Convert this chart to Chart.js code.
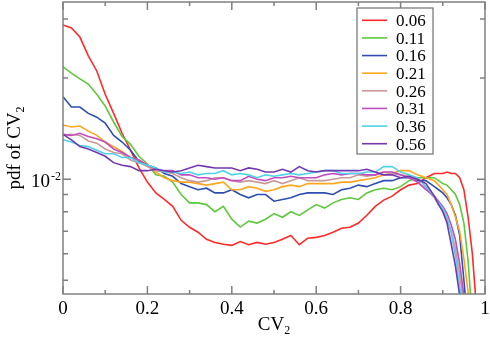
<!DOCTYPE html>
<html>
<head>
<meta charset="utf-8">
<script src="https://cdn.jsdelivr.net/npm/chart.js@4.4.1/dist/chart.umd.min.js"></script>
<style>
  html, body { margin: 0; padding: 0; background: #fff; }
</style>
</head>
<body>
<canvas id="pdfChart" width="490" height="341"></canvas>
<script>
// CV2 bin centres: 0.02 steps up to 0.88, then 0.01 steps through the cut-off
const cv = [
  0, 0.02, 0.04, 0.06, 0.08, 0.1, 0.12, 0.14, 0.16, 0.18,
  0.2, 0.22, 0.24, 0.26, 0.28, 0.3, 0.32, 0.34, 0.36, 0.38,
  0.4, 0.42, 0.44, 0.46, 0.48, 0.5, 0.52, 0.54, 0.56, 0.58,
  0.6, 0.62, 0.64, 0.66, 0.68, 0.7, 0.72, 0.74, 0.76, 0.78,
  0.8, 0.82, 0.84, 0.86, 0.88,
  0.89, 0.9, 0.91, 0.92, 0.93, 0.94, 0.95, 0.96, 0.97, 0.98, 0.99
];

const labels = ["0.06", "0.11", "0.16", "0.21", "0.26", "0.31", "0.36", "0.56"];
const colors = ["#ff2a2a", "#5ec83c", "#2f4fb0", "#ffa620", "#c89a9a", "#c04cc0", "#4fd3e6", "#7338b0"];

const pdf006 = [
  0.0288, 0.0282, 0.0265, 0.0233, 0.0210, 0.0179, 0.0157, 0.0137, 0.0122, 0.0108,
  0.0098, 0.0091, 0.0087, 0.0083, 0.00754, 0.00719, 0.00695, 0.00662, 0.00648, 0.0064,
  0.00635, 0.00652, 0.00638, 0.00648, 0.0064, 0.00648, 0.00662, 0.0068, 0.00638, 0.00667,
  0.00671, 0.0068, 0.00695, 0.00714, 0.00719, 0.0074, 0.00781, 0.0083, 0.00866, 0.0089,
  0.0093, 0.0096, 0.0097, 0.0101, 0.0104,
  0.0104, 0.0104, 0.0105, 0.0104, 0.0104, 0.0101, 0.0093, 0.0077, 0.0060, 0.0041, 0.0030
];
const pdf011 = [
  0.0216, 0.0207, 0.0199, 0.0192, 0.0179, 0.0165, 0.0148, 0.0134, 0.0127, 0.0117,
  0.0111, 0.0103, 0.0102, 0.0098, 0.0090, 0.0085, 0.0085, 0.0084, 0.0080, 0.0083,
  0.0076, 0.0072, 0.0075, 0.0074, 0.0076, 0.0079, 0.0077, 0.0080, 0.0078, 0.0081,
  0.0084, 0.0082, 0.0085, 0.0087, 0.0088, 0.0087, 0.0091, 0.0093, 0.0094, 0.0093,
  0.0095, 0.0099, 0.0101, 0.0101, 0.0101,
  0.0099, 0.0097, 0.0096, 0.0093, 0.0090, 0.0084, 0.0074, 0.0057, 0.0038, 0.0030, 0.0025
];
const pdf016 = [
  0.0176, 0.0164, 0.0164, 0.0157, 0.0153, 0.0147, 0.0135, 0.0129, 0.0122, 0.0113,
  0.0110, 0.0108, 0.0104, 0.0102, 0.0097, 0.0095, 0.0093, 0.0094, 0.0091, 0.0091,
  0.0093, 0.0090, 0.0088, 0.0090, 0.0090, 0.0086, 0.0087, 0.0088, 0.0090, 0.0091,
  0.0091, 0.0091, 0.0090, 0.0093, 0.0094, 0.0096, 0.0095, 0.0097, 0.0099, 0.0099,
  0.0101, 0.0101, 0.0099, 0.0099, 0.0095,
  0.0093, 0.0091, 0.0088, 0.0084, 0.0078, 0.0068, 0.0050, 0.0036, 0.0028, 0.0022, 0.0018
];
const pdf021 = [
  0.0145, 0.0143, 0.0144, 0.0139, 0.0135, 0.0129, 0.0125, 0.0121, 0.0116, 0.0114,
  0.0110, 0.0105, 0.0101, 0.0099, 0.0098, 0.0098, 0.0097, 0.0096, 0.0097, 0.0098,
  0.0093, 0.0093, 0.0095, 0.0094, 0.0092, 0.0093, 0.0095, 0.0096, 0.0095, 0.0097,
  0.0097, 0.0097, 0.0097, 0.0098, 0.0098, 0.0099, 0.0100, 0.0101, 0.0103, 0.0104,
  0.0106, 0.0106, 0.0103, 0.0101, 0.0099,
  0.0096, 0.0093, 0.0090, 0.0084, 0.0077, 0.0070, 0.0058, 0.0046, 0.0036, 0.0028, 0.0022
];
const pdf026 = [
  0.0135, 0.0136, 0.0135, 0.0130, 0.0128, 0.0123, 0.0120, 0.0119, 0.0114, 0.0112,
  0.0109, 0.0106, 0.0105, 0.0104, 0.0101, 0.0099, 0.0098, 0.0099, 0.0101, 0.0101,
  0.0099, 0.0098, 0.0099, 0.0098, 0.0097, 0.0099, 0.0097, 0.0099, 0.0101, 0.0099,
  0.0099, 0.0099, 0.0100, 0.0101, 0.0101, 0.0103, 0.0102, 0.0103, 0.0105, 0.0104,
  0.0103, 0.0102, 0.0098, 0.0094, 0.0088,
  0.0084, 0.0081, 0.0076, 0.0070, 0.0062, 0.0052, 0.0042, 0.0033, 0.0026, 0.0021, 0.0017
];
const pdf031 = [
  0.0136, 0.0135, 0.0137, 0.0134, 0.0132, 0.0129, 0.0123, 0.0120, 0.0116, 0.0114,
  0.0110, 0.0107, 0.0106, 0.0106, 0.0103, 0.0103, 0.0101, 0.0101, 0.0100, 0.0101,
  0.0099, 0.0099, 0.0102, 0.0100, 0.0099, 0.0101, 0.0101, 0.0102, 0.0101, 0.0101,
  0.0101, 0.0103, 0.0104, 0.0103, 0.0104, 0.0104, 0.0103, 0.0103, 0.0105, 0.0105,
  0.0103, 0.0101, 0.0098, 0.0093, 0.0089,
  0.0086, 0.0083, 0.0079, 0.0073, 0.0066, 0.0056, 0.0045, 0.0035, 0.0027, 0.0021, 0.0017
];
const pdf036 = [
  0.0131, 0.0129, 0.0126, 0.0125, 0.0122, 0.0119, 0.0119, 0.0116, 0.0116, 0.0112,
  0.0110, 0.0108, 0.0105, 0.0105, 0.0104, 0.0105, 0.0103, 0.0104, 0.0104, 0.0106,
  0.0103, 0.0104, 0.0103, 0.0101, 0.0103, 0.0102, 0.0103, 0.0104, 0.0103, 0.0104,
  0.0105, 0.0106, 0.0106, 0.0104, 0.0104, 0.0104, 0.0105, 0.0105, 0.0109, 0.0109,
  0.0105, 0.0103, 0.0101, 0.0095, 0.0089,
  0.0085, 0.0082, 0.0077, 0.0069, 0.0059, 0.0048, 0.0038, 0.0030, 0.0024, 0.0019, 0.0015
];
const pdf056 = [
  0.0136, 0.0131, 0.0125, 0.0123, 0.0120, 0.0117, 0.0112, 0.0110, 0.0109, 0.0106,
  0.0106, 0.0107, 0.0106, 0.0105, 0.0106, 0.0108, 0.0110, 0.0109, 0.0108, 0.0108,
  0.0108, 0.0106, 0.0108, 0.0107, 0.0105, 0.0105, 0.0107, 0.0105, 0.0109, 0.0106,
  0.0105, 0.0106, 0.0106, 0.0106, 0.0106, 0.0106, 0.0107, 0.0105, 0.0103, 0.0103,
  0.0101, 0.0102, 0.0100, 0.0097, 0.0089,
  0.0084, 0.0080, 0.0074, 0.0064, 0.0055, 0.0045, 0.0035, 0.0028, 0.0022, 0.0018, 0.0014
];
const series = [pdf006, pdf011, pdf016, pdf021, pdf026, pdf031, pdf036, pdf056];

const xTicks = [0, 0.1, 0.2, 0.3, 0.4, 0.5, 0.6, 0.7, 0.8, 0.9, 1];
const yTicks = [0.005, 0.006, 0.007, 0.008, 0.009, 0.01, 0.02, 0.03];

const FONT = "'Liberation Serif', 'Times New Roman', serif";
const frameColor = "#808080";

// draws the xmgrace-style frame, inward ticks, sub/superscripted texts and the legend
const decorPlugin = {
  id: "decor",
  afterDatasetsDraw(chart) {
    const { ctx, chartArea: a } = chart;
    const sx = chart.scales.x, sy = chart.scales.y;
    ctx.save();
    ctx.strokeStyle = frameColor;
    ctx.lineWidth = 1.5;
    ctx.strokeRect(a.left, a.top, a.right - a.left, a.bottom - a.top);
    ctx.beginPath();
    xTicks.forEach((v, i) => {
      const px = sx.getPixelForValue(v);
      const len = i % 2 === 0 ? 8 : 4;
      ctx.moveTo(px, a.bottom); ctx.lineTo(px, a.bottom - len);
      ctx.moveTo(px, a.top); ctx.lineTo(px, a.top + len);
    });
    yTicks.forEach((v) => {
      const py = sy.getPixelForValue(v);
      const len = v === 0.01 ? 8 : 5;
      ctx.moveTo(a.left, py); ctx.lineTo(a.left + len, py);
      ctx.moveTo(a.right, py); ctx.lineTo(a.right - len, py);
    });
    ctx.stroke();

    ctx.fillStyle = "#000";
    // exponent of the 10^-2 label
    ctx.font = "12px " + FONT;
    ctx.textAlign = "left";
    ctx.textBaseline = "alphabetic";
    ctx.fillText("-2", a.left - 12, sy.getPixelForValue(0.01) + 0.5);

    // x title: CV_2
    ctx.font = "19px " + FONT;
    const wCV = ctx.measureText("CV").width;
    ctx.font = "12px " + FONT;
    const w2 = ctx.measureText("2").width;
    const cx = (a.left + a.right) / 2;
    ctx.font = "19px " + FONT;
    ctx.fillText("CV", cx - (wCV + w2) / 2, 330);
    ctx.font = "12px " + FONT;
    ctx.fillText("2", cx - (wCV + w2) / 2 + wCV, 334);

    // y title: pdf of CV_2
    ctx.save();
    ctx.translate(20, (a.top + a.bottom) / 2);
    ctx.rotate(-Math.PI / 2);
    ctx.font = "19px " + FONT;
    const wT = ctx.measureText("pdf of CV").width;
    ctx.fillText("pdf of CV", -(wT + w2) / 2, 0);
    ctx.font = "12px " + FONT;
    ctx.fillText("2", -(wT + w2) / 2 + wT, 4);
    ctx.restore();

    // legend box
    const lx = 357, ly = 8, lw = 76, lh = 146;
    ctx.fillStyle = "#fff";
    ctx.fillRect(lx, ly, lw, lh);
    ctx.strokeStyle = "#707070";
    ctx.lineWidth = 1.2;
    ctx.strokeRect(lx, ly, lw, lh);
    ctx.font = "17px " + FONT;
    chart.data.datasets.forEach((ds, i) => {
      const rowY = 20.3 + i * 17.63;
      ctx.strokeStyle = ds.borderColor;
      ctx.lineWidth = 1.6;
      ctx.beginPath();
      ctx.moveTo(362, rowY);
      ctx.lineTo(387, rowY);
      ctx.stroke();
      ctx.fillStyle = "#000";
      ctx.fillText(ds.label, 396, rowY + 5.8);
    });
    ctx.restore();
  }
};

new Chart(document.getElementById("pdfChart"), {
  type: "line",
  data: {
    datasets: series.map((vals, i) => ({
      label: labels[i],
      data: cv.map((x, j) => ({ x: x, y: vals[j] })),
      borderColor: colors[i],
      borderWidth: 1.6,
      pointRadius: 0,
      tension: 0,
      fill: false,
      order: series.length - i,
    })),
  },
  options: {
    responsive: false,
    animation: false,
    layout: { padding: { top: 2, right: 5, left: 0, bottom: 0 } },
    plugins: {
      legend: { display: false },
      tooltip: { enabled: false },
    },
    scales: {
      x: {
        type: "linear",
        bounds: "data",
        min: 0,
        max: 1,
        afterFit: (s) => { s.height = 47; s.paddingLeft = 0; s.paddingRight = 0; },
        afterBuildTicks: (s) => { s.ticks = xTicks.map((v) => ({ value: v })); },
        grid: { display: false, drawTicks: false },
        border: { display: false },
        ticks: {
          padding: 4,
          color: "#000",
          font: { family: FONT, size: 19 },
          maxRotation: 0,
          autoSkip: false,
          callback: (v, i) => (i % 2 === 0 ? (v === 0 || v === 1 ? String(v) : v.toFixed(1)) : ""),
        },
      },
      y: {
        type: "logarithmic",
        bounds: "data",
        min: 0.00455,
        max: 0.0337,
        afterFit: (s) => { s.width = 63; s.paddingTop = 0; s.paddingBottom = 0; },
        afterBuildTicks: (s) => { s.ticks = yTicks.map((v) => ({ value: v })); },
        grid: { display: false, drawTicks: false },
        border: { display: false },
        ticks: {
          padding: 13,
          labelOffset: 3,
          color: "#000",
          font: { family: FONT, size: 19 },
          autoSkip: false,
          callback: (v) => (v === 0.01 ? "10" : ""),
        },
      },
    },
  },
  plugins: [decorPlugin],
});
</script>
</body>
</html>
